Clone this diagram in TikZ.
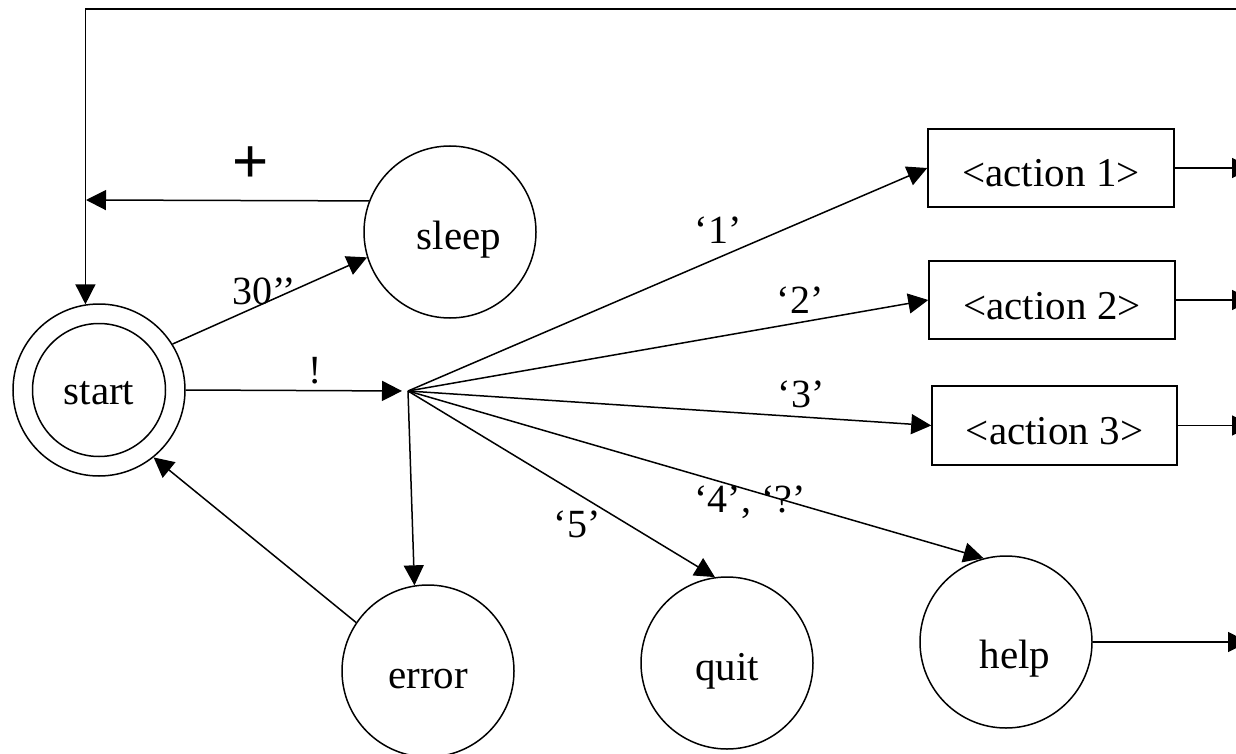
\documentclass[tikz,border=0pt]{standalone}
\usepackage{fontspec}
\setmainfont{Liberation Serif}
\newfontfamily\plusfont{Liberation Sans}
\usetikzlibrary{arrows.meta}
\begin{document}
\begin{tikzpicture}[x=1pt,y=-1pt,line width=1.5pt,
  >={Triangle[length=20pt,width=20pt]},
  txt/.style={font=\fontsize{41}{44}\selectfont,text height=34pt,text depth=0pt},
  state/.style={circle,draw,minimum size=172pt,inner sep=0pt,txt},
  inner/.style={circle,draw,minimum size=133pt,inner sep=0pt,font=\fontsize{41}{44}\selectfont,text height=28pt,text depth=0pt},
  act/.style={rectangle,draw,minimum width=246pt,minimum height=78pt,inner sep=0pt,font=\fontsize{41}{44}\selectfont,text height=38pt,text depth=0pt},
  lbl/.style={inner sep=0pt,anchor=base,font=\fontsize{40}{44}\selectfont}]
\useasboundingbox (0,0) rectangle (1236,754);
\clip (0,0) rectangle (1236,754);
% nodes
\node[state] (start) at (99,390) {};
\node[inner] (startin) at (99,390) {start};
\node[state] (sleep) at (450,232) {\hspace*{18pt}sleep};
\node[state] (err) at (428,671) {error};
\node[state] (quit) at (727,663) {quit};
\node[state,text height=52pt] (help) at (1006,642) {\hspace*{18pt}help};
\node[act] (a1) at (1051,168) {<action 1>};
\node[act] (a2) at (1052,300) {<action 2>};
\node[act,minimum width=245pt,minimum height=79pt] (a3) at (1054.5,425.5) {<action 3>};
\coordinate (hub) at (408,391);
\coordinate (plusend) at (86,200);
\coordinate (tr) at (1240,9);
\coordinate (o1) at (1252,168);
\coordinate (o2) at (1252,300);
\coordinate (o3) at (1252,425.5);
\coordinate (oh) at (1248,642);
% connectors
\draw[->] (tr) -| (start.99.4);
\draw[->] (sleep.159) -- (plusend);
\draw[->] (start.32) -- (sleep.197);
\draw[->,shorten >=6pt] (start.east) -- (hub);
\draw[->] (hub) -- (a1.west);
\draw[->] (hub) -- (a2.west);
\draw[->] (hub) -- (a3.west);
\draw[->] (hub) -- (help.105);
\draw[->] (hub) -- (quit.98);
\draw[->] (hub) -- (err.99);
\draw[->] (err.146) -- (start.-51);
\draw[->] (a1.east) -- (o1);
\draw[->] (a2.east) -- (o2);
\draw[->] (a3.east) -- (o3);
\draw[->] (help.east) -- (oh);
% labels
\node[inner sep=0pt,font=\plusfont\fontsize{62}{64}\selectfont] (lplus) at (251,165) {+};
\node[lbl] (l30) at (264,304) {30’’};
\node[lbl] (lex) at (315,383) {!};
\node[lbl] (l1) at (718,243) {‘1’};
\node[lbl] (l2) at (800,313) {‘2’};
\node[lbl] (l3) at (801,407) {‘3’};
\node[lbl] (l4) at (750,512) {‘4’, ‘?’};
\node[lbl] (l5) at (577,537) {‘5’};
\end{tikzpicture}
\end{document}
